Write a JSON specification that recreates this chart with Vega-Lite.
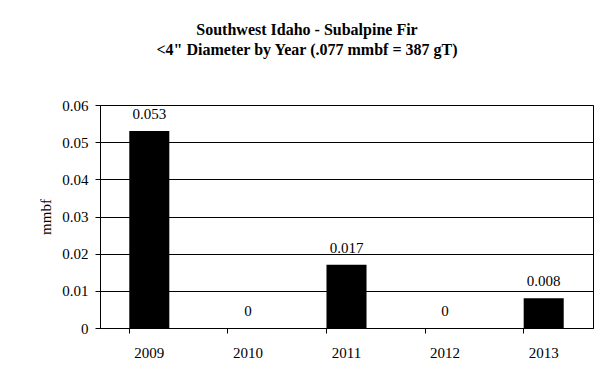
{
  "$schema": "https://vega.github.io/schema/vega-lite/v6.json",
  "autosize": "none",
  "width": 493,
  "height": 223,
  "padding": {"left": 100, "top": 105, "right": 9, "bottom": 60},
  "background": "white",
  "config": {
    "font": "Liberation Serif",
    "view": {"stroke": "#000", "strokeWidth": 1},
    "text": {"font": "Liberation Serif"},
    "axis": {
      "labelFont": "Liberation Serif",
      "titleFont": "Liberation Serif",
      "labelColor": "#000",
      "titleColor": "#000",
      "domainColor": "#000",
      "tickColor": "#000",
      "gridColor": "#000",
      "gridOpacity": 1,
      "labelFontSize": 15,
      "titleFontSize": 15,
      "titleFontWeight": "normal"
    }
  },
  "title": {
    "text": ["Southwest Idaho - Subalpine Fir", "<4\" Diameter by Year (.077 mmbf = 387 gT)"],
    "font": "Liberation Serif",
    "fontSize": 16,
    "fontWeight": "bold",
    "color": "#000",
    "lineHeight": 20,
    "anchor": "middle",
    "frame": "group",
    "dx": -39.5,
    "offset": 40
  },
  "data": {
    "values": [
      {"year": "2009", "mmbf": 0.053},
      {"year": "2010", "mmbf": 0},
      {"year": "2011", "mmbf": 0.017},
      {"year": "2012", "mmbf": 0},
      {"year": "2013", "mmbf": 0.008}
    ]
  },
  "encoding": {
    "x": {
      "field": "year",
      "type": "nominal",
      "sort": null,
      "scale": {"paddingInner": 0.594, "paddingOuter": 0.297},
      "axis": {
        "title": null,
        "labelAngle": 0,
        "bandPosition": 0,
        "tickSize": 5,
        "labelPadding": 12,
        "grid": false,
        "labelFont": "Liberation Serif"
      }
    },
    "y": {
      "field": "mmbf",
      "type": "quantitative",
      "scale": {"domain": [0, 0.06], "nice": false},
      "axis": {
        "title": "mmbf",
        "values": [0, 0.01, 0.02, 0.03, 0.04, 0.05, 0.06],
        "format": ".2~f",
        "tickSize": 5,
        "labelPadding": 7,
        "grid": true,
        "labelFont": "Liberation Serif",
        "titleAngle": -90,
        "titleX": -55,
        "titleY": 111.5,
        "titleAlign": "center",
        "titleBaseline": "middle"
      }
    }
  },
  "layer": [
    {
      "mark": {"type": "bar", "color": "#000"}
    },
    {
      "mark": {"type": "text", "baseline": "alphabetic", "dy": -12, "fontSize": 15, "font": "Liberation Serif", "color": "#000"},
      "encoding": {
        "text": {"field": "mmbf", "type": "quantitative", "format": ".3~f"}
      }
    }
  ]
}
